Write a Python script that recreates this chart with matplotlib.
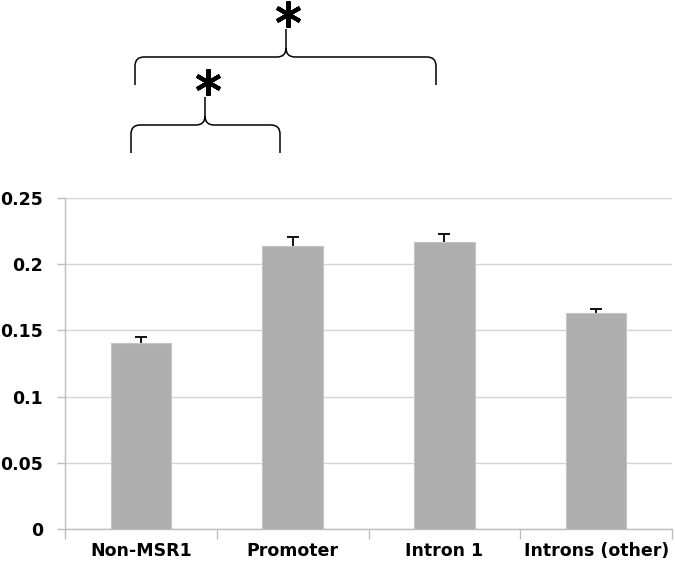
import matplotlib
matplotlib.use("Agg")
import matplotlib.pyplot as plt
from matplotlib.path import Path
from matplotlib.patches import PathPatch
import numpy as np

categories = ["Non-MSR1", "Promoter", "Intron 1", "Introns (other)"]
values = [0.1405, 0.2137, 0.2170, 0.1630]
errors = [0.0047, 0.0070, 0.0055, 0.0030]
yticks = [0, 0.05, 0.1, 0.15, 0.2, 0.25]
ytick_labels = ["0", "0.05", "0.1", "0.15", "0.2", "0.25"]

W, H = 675, 581
fig = plt.figure(figsize=(W / 100, H / 100), dpi=100)
ax_l, ax_r, ax_b, ax_t = 65, 672, 529, 198
ax = fig.add_axes([ax_l / W, (H - ax_b) / H, (ax_r - ax_l) / W, (ax_b - ax_t) / H])

x = np.arange(len(categories))
ax.bar(x, values, width=0.4, color="#AEAEAE", edgecolor="#C4C4C4", linewidth=0.8, zorder=3)
ax.errorbar(x, values, yerr=errors, fmt="none",
            ecolor="black", elinewidth=1.3, capsize=4.5, capthick=1.3, zorder=2)

ax.set_xlim(-0.5, len(categories) - 0.5)
ax.set_ylim(0, 0.25)
ax.set_yticks(yticks)
ax.set_yticklabels(ytick_labels)
ax.yaxis.grid(True, color="#D4D4D4", linewidth=1.0, zorder=0)
ax.set_axisbelow(True)

for s in ["top", "right"]:
    ax.spines[s].set_visible(False)
for s in ["left", "bottom"]:
    ax.spines[s].set_color("#BDBDBD")
    ax.spines[s].set_linewidth(1.0)

ax.set_xticks(x)
ax.set_xticklabels(categories)
ax.set_xticks(np.arange(-0.5, len(categories), 1.0), minor=True)
ax.tick_params(axis="x", which="major", length=0, pad=9)
ax.tick_params(axis="x", which="minor", length=7, color="#BDBDBD", width=1.0)
ax.tick_params(axis="y", length=6, color="#BDBDBD", width=1.0, pad=10)
for lab in ax.get_xticklabels() + ax.get_yticklabels():
    lab.set_fontweight("bold")
    lab.set_fontsize(12.5)
    lab.set_family("DejaVu Sans")

# Overlay axes in pixel coordinates for the braces
ov = fig.add_axes([0, 0, 1, 1])
ov.set_xlim(0, W)
ov.set_ylim(H, 0)
ov.axis("off")


def brace(x0, x1, yh, yb, ytip, xtip, r=9):
    verts = [
        (x0, yb), (x0, yh + r),
        (x0, yh), (x0 + r, yh),
        (xtip - r, yh),
        (xtip, yh), (xtip, yh - r),
        (xtip, ytip),
        (xtip, yh - r),
        (xtip, yh), (xtip + r, yh),
        (x1 - r, yh),
        (x1, yh), (x1, yh + r),
        (x1, yb),
    ]
    codes = [Path.MOVETO, Path.LINETO,
             Path.CURVE3, Path.CURVE3,
             Path.LINETO,
             Path.CURVE3, Path.CURVE3,
             Path.LINETO,
             Path.MOVETO,
             Path.CURVE3, Path.CURVE3,
             Path.LINETO,
             Path.CURVE3, Path.CURVE3,
             Path.LINETO]
    ov.add_patch(PathPatch(Path(verts, codes), fill=False, edgecolor="black", linewidth=1.1))


brace(131, 280, 125, 153, 97, 205)
brace(135, 436, 57, 85, 29, 286)
ov.plot([208, 288], [82, 14], linestyle="none", marker=(6, 2, 0),
        markersize=19, markeredgewidth=3.0, color="black")

fig.savefig("out.png", dpi=100)
